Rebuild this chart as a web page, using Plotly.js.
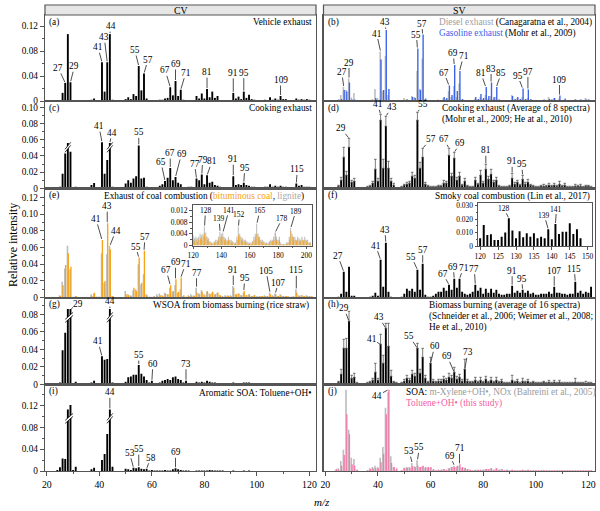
<!DOCTYPE html>
<html><head><meta charset="utf-8">
<script src="https://cdn.plot.ly/plotly-3.0.1.min.js"></script>
<style>body{margin:0;background:#fff}#chart{width:600px;height:511px}</style>
</head><body><div id="chart"></div>
<script>
const MZ0 = 20; // first m/z of main spectra arrays (m/z 20..121)
// (a) Vehicle exhaust
const vehicleExhaust = [0,0,0,0,0,0.0016,0.013,0.029,0.107,0.030,
 0,0.001,0,0,0,0,0,0.002,0.004,0,
 0,0.062,0.015,0.062,0.107,0.002,0,0,0,0,
 0.003,0.006,0.003,0.011,0.008,0.056,0.017,0.044,0.004,0,
 0,0,0,0.002,0.002,0.004,0.005,0.022,0.009,0.032,
 0.008,0.018,0.002,0.001,0.001,0,0.001,0.008,0.004,0.012,
 0.004,0.019,0.006,0.015,0.005,0.008,0.001,0,0,0.001,
 0.001,0.013,0.004,0.007,0.003,0.015,0.005,0.010,0.003,0.002,
 0,0,0.001,0.002,0.001,0.006,0.002,0.004,0.002,0.008,
 0.003,0.003,0.001,0,0,0.004,0.002,0.003,0.002,0.003,0.002,0.001];
// (b) Diesel (gray) / Gasoline (blue)
const dieselExhaust = [0,0,0,0,0,0.002,0.012,0.028,0.022,0.045,
 0.007,0.016,0.002,0,0,0,0.002,0.002,0.004,0.024,
 0.006,0.099,0.020,0.090,0.012,0.002,0,0,0,0.001,
 0.006,0.004,0.002,0.010,0.008,0.060,0.024,0.085,0.004,0.001,
 0,0,0.001,0.003,0.002,0.006,0.004,0.020,0.008,0.030,
 0.008,0.035,0.003,0.001,0.001,0.001,0.002,0.005,0.003,0.008,
 0.004,0.012,0.005,0.010,0.004,0.008,0.003,0.001,0.001,0.002,
 0.002,0.012,0.003,0.006,0.003,0.008,0.003,0.006,0.002,0.002,
 0.001,0.001,0.002,0.002,0.002,0.008,0.003,0.006,0.002,0.005,
 0.002,0.003,0.001,0.002,0.002,0.004,0.002,0.003,0.002,0.006,0.003,0.002];
const gasolineExhaust = [0,0,0,0,0,0.003,0.004,0.022,0.019,0.037,
 0.003,0.003,0,0,0,0,0,0.001,0.002,0.006,
 0.002,0.083,0.022,0.142,0.024,0.002,0,0,0,0,
 0.002,0.003,0.002,0.008,0.006,0.105,0.022,0.133,0.005,0.001,
 0,0,0.001,0.002,0.002,0.008,0.006,0.031,0.012,0.072,
 0.020,0.060,0.004,0.002,0.001,0.001,0.002,0.008,0.004,0.014,
 0.006,0.028,0.010,0.037,0.008,0.028,0.003,0.002,0.001,0.002,
 0.002,0.010,0.004,0.008,0.004,0.025,0.004,0.023,0.004,0.002,
 0.001,0.001,0.002,0.003,0.002,0.004,0.003,0.006,0.002,0.011,
 0.002,0.005,0.002,0.002,0.002,0.003,0.002,0.003,0.002,0.003,0.003,0.002];
// (c) Cooking exhaust (CV)
const cookingCV = [0,0,0,0,0,0.002,0.018,0.043,0.056,0.045,
 0.001,0.002,0,0,0,0,0,0.004,0.0065,0,
 0,0.057,0.018,0.035,0.056,0.002,0,0,0,0,
 0.006,0.010,0.007,0.012,0.015,0.053,0.012,0.013,0.002,0,
 0,0,0.001,0.003,0.005,0.009,0.013,0.025,0.010,0.014,
 0.007,0.005,0.001,0,0.002,0.002,0.001,0.012,0.010,0.017,
 0.005,0.016,0.007,0.008,0.004,0.003,0.002,0,0,0.001,
 0.001,0.015,0.004,0.005,0.004,0.007,0.004,0.003,0.002,0.002,
 0.001,0.001,0.001,0.002,0.002,0.005,0.002,0.003,0.002,0.003,
 0.002,0.002,0.001,0.001,0.001,0.006,0.003,0.004,0.002,0.002,0.002,0.001];
// (d) Cooking exhaust (SV) mean and error
const cookingSV = [0,0,0,0,0,0.002,0.008,0.031,0.013,0.041,
 0.006,0.007,0,0,0,0,0.001,0.002,0.005,0.019,
 0.007,0.068,0.020,0.062,0.020,0.007,0.003,0,0,0.001,
 0.003,0.004,0.005,0.012,0.010,0.068,0.020,0.031,0.004,0.002,
 0.001,0.001,0.001,0.002,0.002,0.005,0.005,0.033,0.012,0.030,
 0.008,0.012,0.003,0.007,0.002,0.001,0.001,0.008,0.004,0.013,
 0.005,0.019,0.009,0.014,0.006,0.008,0.002,0.001,0.001,0.001,
 0.002,0.010,0.004,0.006,0.003,0.009,0.004,0.006,0.003,0.002,
 0.001,0.001,0.002,0.002,0.002,0.003,0.002,0.003,0.002,0.004,
 0.002,0.003,0.001,0.001,0.001,0.002,0.002,0.002,0.001,0.002,0.002,0.001];
const cookingSVErr = [0,0,0,0,0,0.001,0.003,0.010,0.004,0.009,
 0.002,0.003,0,0,0,0,0.001,0.001,0.002,0.010,
 0.003,0.006,0.009,0.010,0.007,0.003,0.002,0,0,0.001,
 0.001,0.002,0.002,0.004,0.003,0.008,0.006,0.009,0.002,0.001,
 0.001,0.001,0.001,0.001,0.001,0.003,0.002,0.007,0.003,0.006,
 0.003,0.004,0.001,0.003,0.001,0.001,0.001,0.003,0.001,0.005,
 0.002,0.005,0.003,0.005,0.002,0.003,0.001,0.001,0.001,0.001,
 0.001,0.005,0.002,0.002,0.001,0.004,0.002,0.003,0.001,0.001,
 0.001,0.001,0.001,0.002,0.001,0.002,0.001,0.002,0.001,0.003,
 0.001,0.002,0.001,0.001,0.001,0.002,0.001,0.002,0.001,0.001,0.001,0.001];
// (e) Coal combustion: bituminous (orange) / lignite (gray)
const coalBituminous = [0,0,0,0,0,0.002,0.015,0.039,0.053,0.037,
 0,0.002,0,0,0,0,0,0.002,0.006,0.001,
 0.001,0.069,0.020,0.089,0.058,0.002,0,0,0,0,
 0.004,0.003,0.002,0.012,0.008,0.048,0.018,0.056,0.003,0.001,
 0,0.001,0.002,0.003,0.002,0.005,0.004,0.015,0.008,0.022,
 0.007,0.024,0.003,0.001,0.002,0.002,0.002,0.006,0.004,0.007,
 0.003,0.008,0.004,0.007,0.004,0.006,0.003,0.001,0.002,0.002,
 0.002,0.012,0.004,0.005,0.003,0.008,0.003,0.004,0.002,0.003,
 0.001,0.002,0.002,0.002,0.002,0.004,0.002,0.004,0.002,0.003,
 0.002,0.002,0.001,0.001,0.001,0.006,0.002,0.003,0.002,0.002,0.002,0.001];
const coalLignite = [0,0,0,0,0,0.003,0.019,0.035,0.062,0.034,
 0.001,0.002,0,0,0,0,0,0.004,0.005,0.001,
 0.001,0.053,0.018,0.052,0.062,0.002,0,0,0,0,
 0.008,0.004,0.003,0.009,0.010,0.040,0.016,0.028,0.004,0.001,
 0.001,0.002,0.004,0.005,0.003,0.006,0.004,0.012,0.007,0.015,
 0.006,0.010,0.002,0.001,0.003,0.004,0.003,0.012,0.005,0.009,
 0.004,0.007,0.005,0.006,0.004,0.006,0.003,0.002,0.003,0.003,
 0.003,0.014,0.004,0.005,0.003,0.006,0.003,0.004,0.002,0.003,
 0.002,0.002,0.002,0.003,0.002,0.006,0.003,0.005,0.002,0.004,
 0.002,0.002,0.002,0.001,0.002,0.010,0.003,0.003,0.002,0.003,0.002,0.002];
// (e) inset, m/z 120..203
const insetLignite = [0.0035,0.0025,0.003,0.0025,0.003,0.004,0.0035,0.004,0.0065,0.0045,
 0.003,0.0025,0.0015,0.001,0.001,0.0015,0.002,0.002,0.003,0.0047,
 0.004,0.0045,0.003,0.0025,0.002,0.003,0.002,0.002,0.0015,0.001,
 0.001,0.003,0.0065,0.004,0.003,0.0025,0.002,0.002,0.0015,0.001,
 0.001,0.001,0.0015,0.003,0.004,0.0075,0.004,0.003,0.002,0.002,
 0.0015,0.001,0.001,0.001,0.0015,0.002,0.002,0.003,0.0045,0.003,
 0.002,0.003,0.001,0.0005,0.0005,0.0005,0.001,0.001,0.003,0.006,
 0.004,0.003,0.003,0.002,0.003,0.0025,0.002,0.003,0.002,0.003,
 0.002,0.002,0.001,0.001];
const insetBituminous = [0.002,0.0015,0.002,0.0015,0.002,0.0025,0.002,0.003,0.004,0.003,
 0.002,0.0015,0.001,0.0005,0.0005,0.001,0.001,0.0015,0.002,0.003,
 0.003,0.003,0.002,0.0015,0.0015,0.002,0.0015,0.001,0.001,0.0005,
 0.0005,0.002,0.0035,0.003,0.002,0.0015,0.0015,0.001,0.001,0.0005,
 0.0005,0.0005,0.001,0.002,0.003,0.004,0.003,0.002,0.0015,0.001,
 0.001,0.0005,0.0005,0.0005,0.001,0.0015,0.0015,0.002,0.0045,0.002,
 0.0015,0.002,0.0005,0.0003,0.0003,0.0003,0.0005,0.001,0.002,0.005,
 0.003,0.002,0.002,0.0015,0.002,0.0015,0.0015,0.002,0.0015,0.002,
 0.0015,0.001,0.001,0.0005];
// (f) Smoky coal combustion
const smokyCoal = [0,0,0,0,0,0.001,0.004,0.026,0.006,0.031,
 0.002,0.002,0,0,0,0,0,0.001,0.002,0.005,
 0.002,0.038,0.011,0.055,0.006,0.001,0,0,0,0.001,
 0.004,0.009,0.007,0.009,0.006,0.028,0.008,0.034,0.003,0.001,
 0.001,0.002,0.004,0.006,0.006,0.010,0.007,0.013,0.008,0.019,
 0.010,0.019,0.006,0.004,0.003,0.004,0.006,0.013,0.007,0.010,
 0.004,0.009,0.005,0.009,0.005,0.008,0.004,0.003,0.003,0.004,
 0.004,0.012,0.005,0.007,0.005,0.008,0.005,0.007,0.004,0.005,
 0.003,0.003,0.004,0.004,0.004,0.006,0.004,0.011,0.005,0.005,
 0.004,0.004,0.003,0.004,0.004,0.016,0.005,0.007,0.004,0.006,0.005,0.011];
// (f) inset, m/z 120..148
const insetSmoky = [0.0057,0.0156,0.0082,0.0087,0.0045,0.0045,0.007,0.010,0.0207,0.0115,
 0.0057,0.011,0.0065,0.0095,0.007,0.0095,0.0058,0.007,0.0058,0.0125,
 0.005,0.0164,0.009,0.0107,0.0107,0.017,0.009,0.0125,0.0058];
// (g) WSOA from biomass burning
const wsoaBiomass = [0,0,0,0,0,0.002,0.039,0.059,0.086,0.086,
 0.001,0.003,0,0,0,0,0,0.002,0.004,0,
 0,0.032,0.028,0.029,0.086,0.002,0,0,0,0,
 0.003,0.008,0.009,0.011,0.011,0.022,0.012,0.009,0.005,0.002,
 0.004,0.001,0.001,0.002,0.004,0.005,0.006,0.005,0.008,0.009,
 0.006,0.005,0.002,0.004,0.001,0.001,0.001,0.003,0.002,0.003,
 0.002,0.004,0.003,0.002,0.002,0.001,0.001,0.001,0,0,
 0.001,0.002,0.001,0.001,0.001,0.002,0.002,0.002,0.001,0.001,
 0,0,0.001,0.001,0,0.001,0.001,0.001,0,0.001,
 0.001,0,0,0,0,0.001,0.001,0,0,0.001,0.001,0];
// (h) Biomass burning (SV) mean and error
const biomassSV = [0,0,0,0,0,0.002,0.010,0.036,0.036,0.063,
 0.006,0.007,0.001,0,0,0,0.001,0.002,0.004,0.012,
 0.004,0.040,0.021,0.056,0.038,0.008,0.002,0.001,0,0.001,
 0.003,0.006,0.004,0.010,0.008,0.036,0.011,0.027,0.006,0.002,
 0.021,0.003,0.002,0.003,0.003,0.005,0.004,0.007,0.006,0.012,
 0.005,0.007,0.003,0.015,0.003,0.002,0.002,0.004,0.002,0.004,
 0.002,0.005,0.002,0.004,0.002,0.004,0.002,0.003,0.001,0.001,
 0.001,0.004,0.002,0.003,0.001,0.003,0.002,0.003,0.001,0.002,
 0.001,0.001,0.001,0.002,0.001,0.002,0.001,0.002,0.001,0.002,
 0.001,0.001,0.001,0.001,0.001,0.002,0.001,0.001,0.001,0.001,0.001,0.001];
const biomassSVErr = [0,0,0,0,0,0.001,0.005,0.009,0.010,0.010,
 0.003,0.004,0.001,0,0,0,0.001,0.001,0.002,0.009,
 0.002,0.010,0.008,0.005,0.023,0.006,0.001,0.001,0,0.001,
 0.002,0.003,0.002,0.004,0.003,0.005,0.004,0.009,0.003,0.001,
 0.006,0.002,0.001,0.002,0.002,0.003,0.002,0.004,0.003,0.005,
 0.003,0.003,0.002,0.010,0.002,0.001,0.001,0.003,0.001,0.003,
 0.001,0.003,0.001,0.003,0.001,0.003,0.001,0.002,0.001,0.001,
 0.001,0.005,0.001,0.002,0.001,0.003,0.001,0.002,0.001,0.001,
 0.001,0.001,0.001,0.001,0.001,0.002,0.001,0.002,0.001,0.002,
 0.001,0.001,0.001,0.001,0.001,0.004,0.001,0.001,0.001,0.002,0.001,0.001];
// (i) Aromatic SOA: Toluene+OH (CV)
const aromaticSOA = [0,0,0,0,0.002,0.007,0.023,0.022,0.113,0.121,
 0.002,0.008,0,0,0,0,0,0.003,0.006,0,
 0,0.020,0.031,0.068,0.113,0.008,0,0,0,0,
 0.004,0.003,0.002,0.006,0.005,0.007,0.004,0.003,0.004,0.001,
 0.002,0.001,0.001,0.001,0.001,0.002,0.001,0.001,0.003,0.005,
 0.003,0.002,0.001,0.001,0.001,0,0,0.001,0.001,0.001,
 0.001,0.001,0.002,0.0015,0.001,0.001,0.001,0.001,0,0,
 0,0.001,0,0,0,0.001,0,0.001,0,0,
 0,0,0,0,0,0,0,0,0,0,
 0,0,0,0,0,0,0,0,0,0,0,0];
// (j) SOA: m-Xylene (gray) / Toluene this study (pink)
const xyleneSOA = [0,0,0,0,0.001,0.004,0.015,0.032,0.122,0.062,
 0.020,0.018,0.002,0,0,0,0.001,0.004,0.006,0.008,
 0.006,0.020,0.036,0.095,0.118,0.022,0.006,0.002,0,0.001,
 0.005,0.006,0.006,0.012,0.007,0.016,0.006,0.007,0.005,0.005,
 0.005,0.002,0.001,0.002,0.002,0.003,0.002,0.004,0.006,0.008,
 0.006,0.008,0.005,0.004,0.003,0.002,0.001,0.002,0.002,0.002,
 0.002,0.003,0.003,0.004,0.002,0.004,0.002,0.003,0.001,0.002,
 0.001,0.002,0.001,0.001,0.001,0.002,0.001,0.002,0.001,0.001,
 0.001,0.001,0.001,0.002,0.001,0.001,0.001,0.001,0.001,0.001,
 0.001,0.001,0.001,0.001,0.001,0.001,0.001,0.001,0.001,0.001,0.001,0.001];
const tolueneSOA = [0,0,0,0,0.003,0.002,0.008,0.024,0.085,0.055,
 0.010,0.008,0.002,0,0,0,0.001,0.003,0.004,0.004,
 0.004,0.013,0.026,0.085,0.122,0.012,0.006,0.004,0,0.001,
 0.004,0.005,0.005,0.007,0.006,0.008,0.006,0.008,0.006,0.006,
 0.006,0.003,0.001,0.002,0.002,0.003,0.002,0.004,0.006,0.006,
 0.008,0.010,0.006,0.005,0.003,0.002,0.001,0.002,0.002,0.002,
 0.002,0.003,0.003,0.004,0.002,0.004,0.002,0.003,0.001,0.002,
 0.001,0.002,0.001,0.001,0.001,0.002,0.001,0.002,0.001,0.001,
 0.001,0.001,0.001,0.001,0.001,0.001,0.001,0.001,0.001,0.001,
 0.001,0.001,0.001,0.001,0.001,0.001,0.001,0.001,0.001,0.001,0.001,0.001];
const xTickVals = [20,40,60,80,100,120];

// ---------- build ----------
const mz = vehicleExhaust.map((_, i) => MZ0 + i);
const mzInsetE = insetLignite.map((_, i) => 120 + i);
const mzInsetF = insetSmoky.map((_, i) => 120 + i);
const W = 600, H = 511;
const FONT = 'Liberation Serif, Times New Roman, serif';
const LINE = '#555';
const C_GRAY = '#bdbdbd', C_ORANGE = '#f5a31a', C_BLUE = '#3b63e6', C_PINK = '#f5609f', C_PINKBAR = '#f37aab';
const TF = 9.3; // panel text font size
const colPx = [[45, 316], [323.5, 595]];
const rowPx = [15, 101, 188.3, 297.7, 384.3, 471];
const py = p => 1 - p / H, pxX = p => p / W;
const nm = (c, n) => c + (n === 1 ? '' : n);
const key = (c, n) => c + 'axis' + (n === 1 ? '' : n);

const layout = {width: W, height: H, margin: {l: 0, r: 0, t: 0, b: 0, pad: 0},
  paper_bgcolor: '#fff', plot_bgcolor: 'rgba(0,0,0,0)', showlegend: false, barmode: 'overlay',
  font: {family: FONT, size: 10, color: '#000'}, annotations: [], shapes: []};

const panels = [
  {n: 1, col: 0, row: 0, yMax: 0.1376, step: 0.04, letter: '(a)'},
  {n: 2, col: 1, row: 0, yMax: 0.172, letter: '(b)'},
  {n: 3, col: 0, row: 1, yMax: 0.1078, step: 0.02, letter: '(c)'},
  {n: 4, col: 1, row: 1, yMax: 0.0873, letter: '(d)'},
  {n: 5, col: 0, row: 2, yMax: 0.1307, step: 0.02, letter: '(e)'},
  {n: 6, col: 1, row: 2, yMax: 0.1094, letter: '(f)'},
  {n: 7, col: 0, row: 3, yMax: 0.099, step: 0.02, letter: '(g)'},
  {n: 8, col: 1, row: 3, yMax: 0.0866, letter: '(h)'},
  {n: 9, col: 0, row: 4, yMax: 0.159, step: 0.04, letter: '(i)'},
  {n: 10, col: 1, row: 4, yMax: 0.130, letter: '(j)'}
];
const scalePx = {};
panels.forEach(p => {
  const [c0, c1] = colPx[p.col];
  const top = rowPx[p.row], bot = rowPx[p.row + 1];
  scalePx[p.n] = (bot - top) / p.yMax;
  const bottom = p.row === 4;
  layout[key('x', p.n)] = {domain: [pxX(c0), pxX(c1)], range: [19.3, 122.5], anchor: nm('y', p.n),
    showline: true, mirror: true, linecolor: LINE, linewidth: 1.2, showgrid: false, zeroline: false,
    ticks: bottom ? 'outside' : '', ticklen: 4, tickcolor: LINE, showticklabels: bottom,
    tickmode: 'array', tickvals: xTickVals, tickfont: {size: 9.8},
    minor: bottom ? {tickmode: 'linear', tick0: 0, dtick: 10, ticks: 'outside', ticklen: 2, tickcolor: LINE} : undefined};
  const yax = {domain: [py(bot), py(top)], range: [0, p.yMax], anchor: nm('x', p.n),
    showline: true, mirror: true, linecolor: LINE, linewidth: 1.2, showgrid: false, zeroline: false};
  if (p.step) {
    const tv = [];
    for (let v = 0; v <= p.yMax + 1e-9; v += p.step) tv.push(+v.toFixed(3));
    Object.assign(yax, {ticks: 'outside', ticklen: 4, tickcolor: LINE, tickmode: 'array', tickvals: tv,
      ticktext: tv.map(v => v === 0 ? '0' : v.toFixed(2)), tickfont: {size: 9.3},
      minor: {tickmode: 'linear', tick0: 0, dtick: p.step / 2, ticks: 'outside', ticklen: 2, tickcolor: LINE}});
  } else {
    Object.assign(yax, {ticks: '', showticklabels: false});
  }
  layout[key('y', p.n)] = yax;
  layout.annotations.push({xref: 'paper', yref: 'paper', x: pxX(c0 + 2), y: py(top + 7), xanchor: 'left', yanchor: 'middle',
    text: p.letter, showarrow: false, font: {size: TF}});
});

// insets
function insetAxes(n, xPx, yPx, xr, yr, xt, yt, xminor, yminor, fmt) {
  layout[key('x', n)] = {domain: [pxX(xPx[0]), pxX(xPx[1])], range: xr, anchor: nm('y', n),
    showline: true, mirror: true, linecolor: LINE, linewidth: 1, showgrid: false, zeroline: false,
    ticks: 'outside', ticklen: 2.5, tickcolor: LINE, tickmode: 'array', tickvals: xt, tickfont: {size: 7.5},
    minor: {tickmode: 'linear', tick0: 0, dtick: xminor, ticks: 'outside', ticklen: 1.5, tickcolor: LINE}};
  layout[key('y', n)] = {domain: [py(yPx[1]), py(yPx[0])], range: yr, anchor: nm('x', n),
    showline: true, mirror: true, linecolor: LINE, linewidth: 1, showgrid: false, zeroline: false,
    ticks: 'outside', ticklen: 2.5, tickcolor: LINE, tickmode: 'array', tickvals: yt,
    ticktext: yt.map(v => v === 0 ? '0' : v.toFixed(fmt)), tickfont: {size: 7.5},
    minor: {tickmode: 'linear', tick0: 0, dtick: yminor, ticks: 'outside', ticklen: 1.5, tickcolor: LINE}};
}
insetAxes(11, [192.5, 312], [205, 245.5], [119.5, 204], [0, 0.0139], [120, 140, 160, 180, 200], [0, 0.004, 0.008, 0.012], 10, 0.002, 3);
insetAxes(12, [478, 592], [203.3, 246], [119.4, 151.2], [0, 0.0319], [120, 125, 130, 135, 140, 145, 150], [0, 0.01, 0.02, 0.03], 5, 0.005, 3);

// traces
const traces = [];
function bars(n, x, y, color, width, offset, extra) {
  traces.push(Object.assign({type: 'bar', x: x, y: y, xaxis: nm('x', n), yaxis: nm('y', n),
    marker: {color: color, line: {width: 0}}, width: width, offset: offset, hoverinfo: 'skip'}, extra || {}));
}
const zeros = mz.map(() => 0);
const errStyle = arr => ({error_y: {type: 'data', symmetric: false, array: arr, arrayminus: zeros, color: '#444', thickness: 0.7, width: 1.3}});
const BW = 0.72;
bars(1, mz, vehicleExhaust, '#000', BW, -BW / 2);
bars(2, mz, dieselExhaust, C_GRAY, 0.62, -0.45);
bars(2, mz, gasolineExhaust, C_BLUE, 0.52, -0.1);
bars(3, mz, cookingCV, '#000', BW, -BW / 2);
bars(4, mz, cookingSV, '#000', BW, -BW / 2, errStyle(cookingSVErr));
bars(5, mz, coalLignite, C_GRAY, 0.62, -0.45);
bars(5, mz, coalBituminous, C_ORANGE, 0.52, -0.1);
bars(6, mz, smokyCoal, '#000', BW, -BW / 2);
bars(7, mz, wsoaBiomass, '#000', BW, -BW / 2);
bars(8, mz, biomassSV, '#000', BW, -BW / 2, errStyle(biomassSVErr));
bars(9, mz, aromaticSOA, '#000', BW, -BW / 2);
bars(10, mz, xyleneSOA, C_GRAY, 0.62, -0.45);
bars(10, mz, tolueneSOA, C_PINKBAR, 0.52, -0.1);
bars(11, mzInsetE, insetLignite, C_GRAY, 0.75, -0.5);
bars(11, mzInsetE, insetBituminous, C_ORANGE, 0.55, -0.2);
bars(12, mzInsetF, insetSmoky, '#000', 0.55, -0.275);

// peak labels
const at = (arr, m) => arr[m - MZ0];
function peaks(n, list, top, size) {
  list.forEach(([m, dx, dy]) => layout.annotations.push({xref: nm('x', n), yref: nm('y', n), x: m, y: top(m),
    text: String(m), showarrow: true, arrowhead: 0, arrowwidth: 0.7, arrowcolor: '#000', ax: dx, ay: dy,
    standoff: 1, borderpad: 0, font: {size: size || 9.3}}));
}
peaks(1, [[27,-7,-15],[29,4,-16],[41,-4,-15],[43,-3,-25],[44,1,-8],[55,-4,-16],[57,4,-14],[67,-5,-17],[69,0,-17],[71,5,-17],[81,0,-17],[91,0,-20],[95,0,-19],[109,0,-16]], m => at(vehicleExhaust, m));
peaks(2, [[27,-2,-15],[29,0,-16],[41,-4,-18],[43,-1,-8],[55,-1,-14],[57,-1,-11],[67,-5,-13],[69,-1,-12],[71,4,-15],[81,-5,-14],[83,0,-14],[85,5,-14],[95,-5,-13],[97,0,-18],[109,0,-16]], m => Math.max(at(dieselExhaust, m), at(gasolineExhaust, m)));
peaks(3, [[41,-3,-16],[44,2,-10],[55,0,-13],[65,-4,-19],[67,0,-15],[69,6,-23],[77,-2,-15],[79,1,-15],[81,5,-14],[91,0,-17],[95,1,-15],[115,1,-14]], m => at(cookingCV, m));
peaks(4, [[29,-8,-10],[41,-3,-10],[43,6,-9],[55,6,-8],[57,8,-9],[67,-5,-9],[69,6,-9],[81,0,-14],[91,0,-12],[95,-1,-11]], m => at(cookingSV, m) + at(cookingSVErr, m));
peaks(5, [[41,-6,-21],[43,0,-17],[44,6,-15],[55,-3,-11],[57,1,-14],[67,-4,-15],[69,0,-17],[71,5,-14],[77,0,-15],[91,0,-16],[95,1,-13],[105,-4,-22],[107,3,-11],[115,0,-19]], m => Math.max(at(coalLignite, m), at(coalBituminous, m)));
peaks(6, [[27,-6,-16],[41,-5,-14],[43,-1,-13],[55,-6,-13],[57,0,-14],[67,-6,-11],[69,-1,-12],[71,4,-11],[77,-1,-16],[91,0,-15],[95,-1,-11],[107,0,-16],[115,-1,-13]], m => at(smokyCoal, m));
peaks(7, [[29,8,-5],[44,0,-8],[41,-4,-15],[55,0,-10],[60,1,-17],[73,0,-17]], m => at(wsoaBiomass, m));
peaks(8, [[29,-5,-13],[41,-9,-5],[43,-7,-11],[55,-8,-12],[60,4,-17],[69,-7,-16],[73,3,-17]], m => at(biomassSV, m));
peaks(9, [[44,0,-17],[53,-4,-15],[55,0,-18],[58,4,-11],[69,0,-16]], m => at(aromaticSOA, m));
peaks(10, [[44,-11,6],[53,-3,-12],[55,2,-13],[69,-4,-10],[71,0,-16]], m => Math.max(at(xyleneSOA, m), at(tolueneSOA, m)));
peaks(11, [[128,1,-16],[139,-1,-13],[141,6,-22],[152,1,-12],[165,3,-13],[178,7,-14],[189,5,-17]], m => Math.max(insetLignite[m - 120], insetBituminous[m - 120]), 7.5);
peaks(12, [[128,-5,-10],[139,-4,-14],[141,1,-15]], m => insetSmoky[m - 120], 7.5);

// axis break marks
function breakMark(n, m, v, halfW) {
  const s = scalePx[n], rise = 3.5 / s, gap = 3 / s;
  const xr = nm('x', n), yr = nm('y', n), x0 = m - halfW, x1 = m + halfW;
  layout.shapes.push({type: 'path', xref: xr, yref: yr, path: `M${x0},${v - rise} L${x1},${v + rise} L${x1},${v + rise + gap} L${x0},${v - rise + gap} Z`, fillcolor: '#fff', line: {width: 0}});
  layout.shapes.push({type: 'line', xref: xr, yref: yr, x0: x0, y0: v - rise, x1: x1, y1: v + rise, line: {color: '#000', width: 0.8}});
  layout.shapes.push({type: 'line', xref: xr, yref: yr, x0: x0, y0: v - rise + gap, x1: x1, y1: v + rise + gap, line: {color: '#000', width: 0.8}});
}
breakMark(3, 28, at(cookingCV, 28) * 0.87, 1.1);
breakMark(3, 44, at(cookingCV, 44) * 0.87, 1.1);
breakMark(7, 28.5, Math.min(at(wsoaBiomass, 28), at(wsoaBiomass, 29)) * 0.87, 1.5);
breakMark(7, 44, at(wsoaBiomass, 44) * 0.87, 1.1);
breakMark(9, 28.5, Math.min(at(aromaticSOA, 28), at(aromaticSOA, 29)) * 0.83, 1.5);
breakMark(9, 44, at(aromaticSOA, 44) * 0.83, 1.1);

// header strips
[['CV', 0], ['SV', 1]].forEach(([t, c]) => {
  layout.shapes.push({type: 'rect', xref: 'paper', yref: 'paper', x0: pxX(colPx[c][0]), x1: pxX(colPx[c][1]), y0: py(15), y1: py(5), fillcolor: '#e6e6e6', line: {color: LINE, width: 1.2}});
  layout.annotations.push({xref: 'paper', yref: 'paper', x: pxX((colPx[c][0] + colPx[c][1]) / 2), y: py(10), text: t, showarrow: false, xanchor: 'center', yanchor: 'middle', font: {size: 9.8}});
});

// texts
function txt(x, y, t, anchor, size) {
  layout.annotations.push({xref: 'paper', yref: 'paper', x: pxX(x), y: py(y), text: t, showarrow: false, xanchor: anchor, yanchor: 'middle', font: {size: size || TF}});
}
const sp = (c, t) => `<span style="color:${c}">${t}</span>`;
txt(314, 22.5, 'Vehicle exhaust', 'right');
txt(314, 108.5, 'Cooking exhaust', 'right');
txt(306, 196, 'Exhaust of coal combustion (' + sp(C_ORANGE, 'bituminous coal') + ', ' + sp('#a8a8a8', 'lignite') + ')', 'right');
txt(311, 305, 'WSOA from biomass burning (rice straw)', 'right');
txt(314, 392.5, 'Aromatic SOA: Toluene+OH•', 'right');
txt(437, 22.5, sp('#a0a0a0', 'Diesel exhaust') + ' (Canagaratna et al., 2004)', 'left');
txt(437, 33.5, sp(C_BLUE, 'Gasoline exhaust') + ' (Mohr et al., 2009)', 'left');
txt(440, 108.5, 'Cooking exhaust (Average of 8 spectra)', 'left');
txt(440, 119.5, '(Mohr et al., 2009; He at al., 2010)', 'left');
txt(592, 196, 'Smoky coal combustion (Lin et al., 2017)', 'right');
txt(427, 305, 'Biomass burning (average of 16 spectra)', 'left');
txt(427, 316, '(Schneider et al., 2006; Weimer et al., 2008;', 'left');
txt(427, 327, 'He et al., 2010)', 'left');
txt(404, 392.5, 'SOA: ' + sp('#9a9a9a', 'm-Xylene+OH•, NOx (Bahreini et al., 2005)'), 'left');
txt(404, 403.5, sp(C_PINK, 'Toluene+OH• (this study)'), 'left');
layout.annotations.push({xref: 'paper', yref: 'paper', x: pxX(13), y: py(245), text: 'Relative intensity', textangle: -90, showarrow: false, xanchor: 'center', yanchor: 'middle', font: {size: 12}});
txt(322, 502, '<i>m/z</i>', 'center', 11);

Plotly.newPlot('chart', traces, layout, {staticPlot: true, displayModeBar: false});
</script></body></html>
